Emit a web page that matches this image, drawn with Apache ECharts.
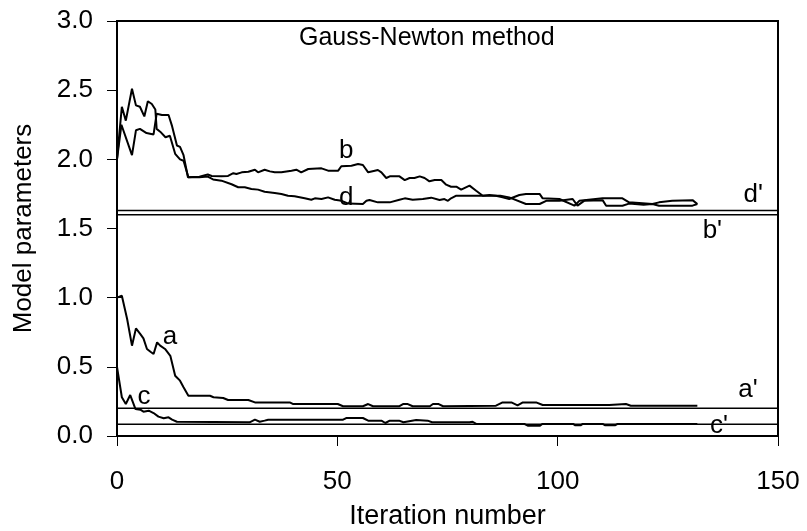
<!DOCTYPE html>
<html><head><meta charset="utf-8">
<script src="https://cdn.jsdelivr.net/npm/echarts@6/dist/echarts.min.js"></script>
<style>html,body{margin:0;padding:0;background:#fff}#c{width:807px;height:531px}</style>
</head><body><div id="c"></div>
<script>
var titleText = 'Gauss-Newton method';
var xName = 'Iteration number';
var yName = 'Model parameters';
var xTicks = [0, 50, 100, 150];
var yTicks = [0, 0.5, 1.0, 1.5, 2.0, 2.5, 3.0];

var seriesB = [[0,2.0],[1.1,2.38],[2,2.28],[3.4,2.51],[4.3,2.39],[5.2,2.38],[6.2,2.31],[7,2.42],[7.9,2.40],[8.7,2.36],[9,2.22],[9.8,2.20],[11,2.16],[12,2.17],[13.2,2.04],[14.3,2.0],[15.1,1.99],[16.2,1.87],[18.7,1.875],[20.6,1.89],[21.5,1.88],[23.7,1.877],[25.2,1.88],[26.4,1.90],[27.1,1.894],[28.3,1.906],[29.8,1.91],[31.3,1.925],[32,1.906],[33.5,1.925],[34.7,1.913],[35.8,1.906],[37.3,1.906],[39.6,1.918],[40.7,1.925],[41.8,1.906],[43.4,1.93],[46.4,1.935],[47.9,1.918],[50.2,1.918],[50.9,1.95],[53.2,1.954],[54.7,1.966],[55.8,1.959],[57,1.906],[58.5,1.918],[59.2,1.923],[60,1.906],[61.1,1.865],[61.9,1.877],[64.1,1.877],[65.3,1.85],[66.4,1.865],[67.5,1.865],[68.7,1.877],[69.8,1.865],[70.9,1.841],[72.1,1.85],[73.6,1.85],[74.7,1.817],[75.8,1.802],[77,1.802],[78.1,1.781],[80,1.81],[81.5,1.773],[83,1.737],[84.5,1.742],[86,1.737],[87.5,1.725],[89,1.713],[91.3,1.742],[92.8,1.75],[95.9,1.75],[96.6,1.718],[100.4,1.713],[103.8,1.665],[104.9,1.70],[110.2,1.718],[114.7,1.718],[116.2,1.689],[121.5,1.677],[123,1.689],[126,1.70],[130.6,1.705],[131.7,1.677]];

var seriesD = [[0,2.0],[1,2.25],[3.4,2.03],[4.3,2.21],[5.2,2.22],[6.7,2.19],[8.3,2.18],[9,2.33],[10.2,2.32],[11.7,2.32],[12.5,2.24],[13.6,2.10],[14.3,2.09],[15.1,2.03],[16.1,1.87],[18.7,1.87],[20.6,1.875],[21.8,1.855],[23.7,1.846],[26,1.82],[27.5,1.798],[29,1.798],[30.5,1.786],[32,1.781],[33.5,1.766],[35.8,1.757],[37.3,1.75],[38.8,1.737],[40.3,1.733],[42.6,1.718],[44.1,1.708],[44.9,1.718],[46.4,1.713],[47.9,1.725],[49.4,1.708],[51,1.70],[52.5,1.68],[55.8,1.677],[56.6,1.70],[57.3,1.706],[59.2,1.689],[61.9,1.689],[64.1,1.708],[65.3,1.718],[67.1,1.708],[69.4,1.713],[71.3,1.723],[73.2,1.706],[74.3,1.713],[75.1,1.70],[75.8,1.718],[77,1.737],[83,1.737],[87,1.737],[89,1.725],[92.8,1.677],[95.9,1.677],[97.4,1.70],[100.4,1.70],[103.4,1.713],[104.5,1.665],[106,1.70],[110.2,1.705],[111,1.665],[114.7,1.665],[116.2,1.680],[119.5,1.672],[121.5,1.677],[123,1.665],[130.6,1.665],[131.7,1.677]];

var seriesA = [[0,1.0],[1.1,1.014],[2.3,0.846],[3.4,0.653],[4.3,0.778],[5.3,0.737],[6,0.706],[6.8,0.629],[7.6,0.609],[8.3,0.593],[9.1,0.677],[9.8,0.653],[10.9,0.629],[12.1,0.58],[13.2,0.436],[14.3,0.40],[15.1,0.352],[16.2,0.291],[21.1,0.291],[21.9,0.28],[24.1,0.275],[25.2,0.26],[29.8,0.26],[31.3,0.243],[39.2,0.243],[40,0.231],[50.1,0.231],[51.3,0.215],[55.8,0.215],[57,0.231],[58.1,0.215],[64,0.215],[64.9,0.231],[66,0.231],[67.1,0.215],[71,0.215],[71.7,0.231],[73,0.231],[74,0.215],[86,0.219],[87.5,0.243],[89.5,0.243],[90.9,0.222],[92.1,0.243],[95.1,0.243],[96.6,0.224],[111.7,0.224],[112,0.231],[115.5,0.231],[116.6,0.219],[131.7,0.219]];

var seriesC = [[0,0.50],[1.1,0.28],[2,0.231],[3,0.296],[4.2,0.195],[5.3,0.19],[6,0.176],[7.2,0.183],[8.3,0.166],[9.4,0.14],[10.6,0.128],[11.7,0.135],[12.5,0.118],[13.6,0.103],[30.1,0.099],[31.3,0.118],[32.4,0.103],[33.5,0.111],[34.3,0.118],[51.3,0.118],[52,0.13],[55.8,0.13],[57,0.111],[60,0.111],[60.9,0.094],[61.9,0.111],[64,0.111],[65,0.099],[67.9,0.116],[70.5,0.111],[71.5,0.099],[80,0.099],[80.7,0.103],[81.5,0.087],[92.4,0.087],[93.2,0.075],[96,0.075],[96.5,0.087],[103.5,0.087],[104,0.077],[105.2,0.077],[105.7,0.087],[110.2,0.087],[110.8,0.077],[113,0.077],[113.6,0.087],[131.7,0.087]];

var refNames = ["a'", "b'", "c'", "d'"];
var refValues = [0.20, 1.60, 0.085, 1.63];

var labelTexts = ['b', 'd', "d'", "b'", 'a', "a'", 'c', "c'"];
var labelX = [52, 52, 144.4, 135.1, 12, 143.2, 6.1, 136.6];
var labelY = [2.06, 1.725, 1.74, 1.48, 0.72, 0.335, 0.28, 0.075];

var FONT = 'Liberation Sans, Arial, sans-serif';
var chart = echarts.init(document.getElementById('c'));

function curve(name, data) {
  return {type:'line', name:name, data:data, symbol:'none', animation:false,
    lineStyle:{color:'#000', width:2}, z:3};
}
var series = [curve('b', seriesB), curve('d', seriesD), curve('a', seriesA), curve('c', seriesC)];
refValues.forEach(function(v, i){
  series.push({type:'line', name:refNames[i], data:[[xTicks[0], v],[xTicks[xTicks.length-1], v]],
    symbol:'none', animation:false, lineStyle:{color:'#000', width:1.5}, z:2});
});
series.push({type:'scatter', name:'labels', symbolSize:0, animation:false, z:5,
  itemStyle:{opacity:1, color:'#000'},
  data: labelTexts.map(function(t,i){ return {value:[labelX[i], labelY[i]], name:t}; }),
  label:{show:true, position:'inside', formatter:function(p){return p.name;},
    color:'#000', opacity:1, textBorderWidth:0, fontSize:26, fontFamily:FONT}});

chart.setOption({
  animation:false,
  backgroundColor:'#fff',
  title:{text:titleText, left:294, top:21,
    textStyle:{fontSize:25, fontWeight:'normal', color:'#000', fontFamily:FONT}},
  grid:{left:117, right:29, top:21, bottom:95, containLabel:false, outerBoundsMode:'none',
    show:true, borderColor:'#000', borderWidth:2, backgroundColor:'transparent'},
  xAxis:{type:'value', min:0, max:150, interval:50,
    name:xName, nameLocation:'middle', nameGap:67, nameMoveOverlap:false,
    nameTextStyle:{fontSize:27, color:'#000', fontFamily:FONT},
    axisLine:{show:true, onZero:false, lineStyle:{color:'#000', width:2}},
    axisTick:{show:true, inside:false, length:10, lineStyle:{color:'#000', width:1}},
    axisLabel:{fontSize:26, color:'#000', fontFamily:FONT, margin:33},
    splitLine:{show:false}},
  yAxis:{type:'value', min:0, max:3, interval:0.5,
    name:yName, nameLocation:'middle', nameGap:80, nameMoveOverlap:false,
    nameTextStyle:{fontSize:26, color:'#000', fontFamily:FONT},
    axisLine:{show:true, lineStyle:{color:'#000', width:2}},
    axisTick:{show:true, inside:false, length:10, lineStyle:{color:'#000', width:1}},
    axisLabel:{fontSize:26, color:'#000', fontFamily:FONT, margin:24,
      formatter:function(v){return v.toFixed(1);}},
    splitLine:{show:false}},
  series:series
});
</script></body></html>
